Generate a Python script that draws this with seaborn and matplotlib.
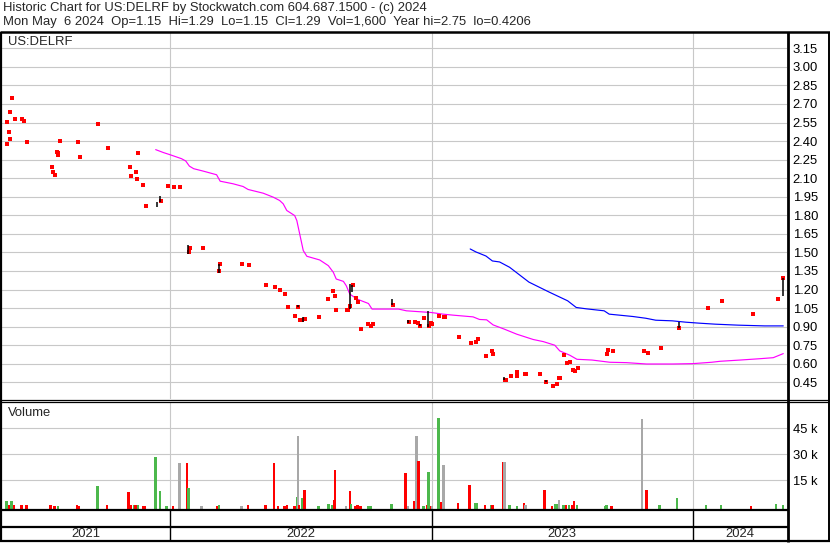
import numpy as np
import pandas as pd
import seaborn as sns
import matplotlib.pyplot as plt
from matplotlib.lines import Line2D

# ---- data ----
# daily closes (red dots)
close_dates = [
    "2021-05-18", "2021-05-19", "2021-05-21", "2021-05-22", "2021-05-23", "2021-05-26",
    "2021-05-29", "2021-06-08", "2021-06-11", "2021-06-16", "2021-07-20", "2021-07-21",
    "2021-07-25", "2021-07-27", "2021-07-28", "2021-07-29", "2021-07-31", "2021-08-25",
    "2021-08-28", "2021-09-23", "2021-10-06", "2021-11-06", "2021-11-08", "2021-11-14",
    "2021-11-16", "2021-11-18", "2021-11-25", "2021-11-28", "2021-12-19", "2021-12-29",
    "2022-01-06", "2022-01-15", "2022-01-27", "2022-01-29", "2022-02-16", "2022-03-10",
    "2022-03-12", "2022-04-12", "2022-04-21", "2022-05-15", "2022-05-27", "2022-06-03",
    "2022-06-11", "2022-06-14", "2022-06-25", "2022-06-29", "2022-07-01", "2022-07-04",
    "2022-07-09", "2022-07-28", "2022-08-10", "2022-08-16", "2022-08-19", "2022-08-21",
    "2022-09-05", "2022-09-07", "2022-09-09", "2022-09-13", "2022-09-17", "2022-09-21",
    "2022-09-25", "2022-10-05", "2022-10-09", "2022-10-11", "2022-11-08", "2022-11-30",
    "2022-12-09", "2022-12-13", "2022-12-16", "2022-12-22", "2022-12-29", "2022-12-31",
    "2023-01-02", "2023-01-12", "2023-01-18", "2023-01-20", "2023-02-08", "2023-02-25",
    "2023-03-04", "2023-03-07", "2023-03-18", "2023-03-26", "2023-03-28", "2023-04-13",
    "2023-04-15", "2023-04-22", "2023-04-30", "2023-05-01", "2023-05-11", "2023-05-13",
    "2023-06-02", "2023-06-10", "2023-06-19", "2023-06-25", "2023-06-28", "2023-06-29",
    "2023-07-05", "2023-07-09", "2023-07-13", "2023-07-17", "2023-07-20", "2023-07-24",
    "2023-09-03", "2023-09-04", "2023-09-11", "2023-10-24", "2023-10-30", "2023-11-17",
    "2023-12-12", "2024-01-22", "2024-02-11", "2024-03-25", "2024-04-28", "2024-05-06",
]
close_prices = [
    2.38, 2.555, 2.47, 2.635, 2.42, 2.75,
    2.58, 2.58, 2.565, 2.39, 2.19, 2.15,
    2.125, 2.31, 2.285, 2.30, 2.40, 2.39,
    2.27, 2.54, 2.345, 2.19, 2.115, 2.15,
    2.095, 2.30, 2.045, 1.875, 1.915, 2.035,
    2.03, 2.03, 1.50, 1.533, 1.533, 1.347,
    1.403, 1.403, 1.395, 1.24, 1.217, 1.198,
    1.16, 1.055, 0.99, 1.055, 0.955, 0.95,
    0.963, 0.974, 1.12, 1.185, 1.144, 1.031,
    1.031, 1.031, 1.063, 1.233, 1.128, 1.103,
    0.877, 0.925, 0.909, 0.925, 1.079, 0.941,
    0.936, 0.933, 0.909, 0.966, 0.906, 0.928,
    0.925, 0.99, 0.974, 0.974, 0.819, 0.771,
    0.779, 0.803, 0.666, 0.706, 0.682, 0.469,
    0.469, 0.503, 0.503, 0.536, 0.52, 0.52,
    0.52, 0.455, 0.42, 0.439, 0.488, 0.488,
    0.674, 0.609, 0.617, 0.552, 0.544, 0.568,
    0.682, 0.714, 0.706, 0.706, 0.69, 0.731,
    0.89, 1.047, 1.111, 1.006, 1.12, 1.29,
]

# days with a visible high-low range (black bars)
range_dates = ["2021-12-14", "2021-12-18", "2022-01-26", "2022-03-11", "2022-06-28",
               "2022-07-06", "2022-09-09", "2022-09-12", "2022-11-07", "2022-11-29",
               "2022-12-16", "2022-12-27", "2023-04-12", "2023-06-10", "2023-12-12",
               "2024-05-06"]
range_lows = [1.866, 1.906, 1.49, 1.33, 1.055, 0.934, 1.04, 1.18, 1.075, 0.93,
              0.905, 0.90, 0.469, 0.45, 0.89, 1.15]
range_highs = [1.906, 1.96, 1.56, 1.407, 1.075, 0.974, 1.245, 1.235, 1.12, 0.955,
               0.925, 1.03, 0.49, 0.465, 0.94, 1.29]

# moving averages
ma_pink_dates = [
    "2021-12-12", "2021-12-23", "2022-01-01", "2022-01-17", "2022-01-23", "2022-01-28",
    "2022-02-03", "2022-02-16", "2022-03-07", "2022-03-12", "2022-03-30", "2022-04-13",
    "2022-04-20", "2022-05-11", "2022-05-25", "2022-06-03", "2022-06-08", "2022-06-13",
    "2022-06-24", "2022-06-27", "2022-06-30", "2022-07-03", "2022-07-06", "2022-07-11",
    "2022-07-29", "2022-08-10", "2022-08-17", "2022-08-21", "2022-08-31", "2022-09-04",
    "2022-09-09", "2022-09-19", "2022-10-05", "2022-10-10", "2022-11-16", "2022-11-27",
    "2023-01-01", "2023-01-17", "2023-01-31", "2023-02-28", "2023-03-09", "2023-03-19",
    "2023-03-28", "2023-04-13", "2023-04-30", "2023-05-23", "2023-06-06", "2023-06-22",
    "2023-06-29", "2023-07-13", "2023-07-23", "2023-08-13", "2023-09-07", "2023-09-30",
    "2023-10-28", "2023-12-04", "2024-01-01", "2024-01-27", "2024-02-08", "2024-03-07",
    "2024-04-04", "2024-04-22", "2024-05-06",
]
ma_pink_values = [
    2.331, 2.307, 2.29, 2.258, 2.239, 2.198,
    2.177, 2.158, 2.128, 2.076, 2.055, 2.033,
    2.009, 1.979, 1.947, 1.92, 1.893, 1.839,
    1.798, 1.758, 1.677, 1.596, 1.515, 1.469,
    1.439, 1.393, 1.339, 1.285, 1.266, 1.231,
    1.163, 1.123, 1.087, 1.042, 1.042, 1.028,
    1.014, 1.001, 0.993, 0.979, 0.958, 0.955,
    0.914, 0.879, 0.839, 0.796, 0.779, 0.75,
    0.704, 0.669, 0.636, 0.63, 0.612, 0.609,
    0.598, 0.598, 0.601, 0.612, 0.62, 0.63,
    0.641, 0.649, 0.682,
]
ma_blue_dates = [
    "2023-02-24", "2023-03-04", "2023-03-18", "2023-03-27", "2023-04-06", "2023-04-20",
    "2023-05-17", "2023-06-14", "2023-07-10", "2023-07-22", "2023-08-05", "2023-08-30",
    "2023-09-06", "2023-09-20", "2023-10-09", "2023-10-27", "2023-11-10", "2023-12-03",
    "2023-12-22", "2024-01-10", "2024-02-01", "2024-03-04", "2024-04-10", "2024-05-06",
]
ma_blue_values = [
    1.528, 1.504, 1.471, 1.431, 1.423, 1.38,
    1.26, 1.18, 1.109, 1.055, 1.044, 1.028,
    1.001, 0.993, 0.982, 0.968, 0.952, 0.947,
    0.936, 0.928, 0.92, 0.912, 0.906, 0.906,
]

# daily volume in thousands, coloured down / up / flat
vol_dates = [
    "2021-05-18", "2021-05-22", "2021-05-25", "2021-05-28", "2021-06-08", "2021-06-15",
    "2021-07-18", "2021-07-19", "2021-07-24", "2021-07-29", "2021-08-24", "2021-08-26",
    "2021-09-22", "2021-10-05", "2021-11-04", "2021-11-07", "2021-11-12", "2021-11-14",
    "2021-11-17", "2021-11-25", "2021-11-27", "2021-12-12", "2021-12-18", "2021-12-27",
    "2022-01-05", "2022-01-14", "2022-01-25", "2022-01-27", "2022-02-14", "2022-03-08",
    "2022-03-10", "2022-04-11", "2022-04-20", "2022-05-14", "2022-05-26", "2022-06-01",
    "2022-06-10", "2022-06-13", "2022-06-24", "2022-06-27", "2022-06-29", "2022-06-30",
    "2022-07-05", "2022-07-08", "2022-07-27", "2022-08-10", "2022-08-15", "2022-08-18",
    "2022-08-19", "2022-09-04", "2022-09-09", "2022-09-11", "2022-09-16", "2022-09-20",
    "2022-09-24", "2022-10-05", "2022-10-08", "2022-11-06", "2022-11-26", "2022-11-29",
    "2022-12-08", "2022-12-11", "2022-12-14", "2022-12-21", "2022-12-26", "2022-12-28",
    "2022-12-31", "2023-01-02", "2023-01-11", "2023-01-15", "2023-01-18", "2023-02-07",
    "2023-02-23", "2023-03-03", "2023-03-05", "2023-03-17", "2023-03-25", "2023-03-27",
    "2023-04-11", "2023-04-13", "2023-04-20", "2023-04-30", "2023-05-10", "2023-05-12",
    "2023-06-08", "2023-06-18", "2023-06-23", "2023-06-26", "2023-06-28", "2023-07-04",
    "2023-07-08", "2023-07-12", "2023-07-16", "2023-07-19", "2023-07-23", "2023-08-31",
    "2023-09-02", "2023-09-09", "2023-10-22", "2023-10-28", "2023-11-15", "2023-12-10",
    "2024-01-19", "2024-02-09", "2024-03-22", "2024-04-26", "2024-05-06",
]
vol_values = [
    3.1, 0.5, 3.1, 0.5, 0.6, 0.8,
    0.6, 0.9, 0.4, 0.4, 0.7, 0.4,
    11.7, 0.9, 8.3, 1.0, 0.8, 1.0,
    0.5, 0.4, 0.4, 28.4, 8.8, 0.4,
    0.4, 25.0, 25.0, 10.6, 0.4, 0.4,
    1.0, 0.4, 0.6, 0.6, 25.2, 0.3,
    0.3, 0.75, 0.3, 5.4, 40.6, 0.6,
    4.8, 9.4, 0.3, 1.3, 0.8, 3.6,
    20.9, 0.3, 8.8, 1.3, 0.3, 0.5,
    0.3, 0.3, 0.3, 1.3, 19.2, 0.3,
    3.1, 40.6, 26.1, 0.3, 0.5, 19.8,
    0.3, 0.3, 50.9, 2.5, 23.8, 1.9,
    12.3, 1.9, 1.9, 0.5, 0.8, 0.5,
    25.6, 25.6, 1.0, 0.3, 1.9, 0.5,
    9.4, 0.3, 1.3, 1.3, 3.6, 1.0,
    1.0, 0.5, 0.5, 3.1, 1.0, 0.3,
    0.8, 0.3, 50.4, 9.4, 0.5, 4.8,
    0.5, 0.8, 0.3, 1.3, 0.9,
]
vol_moves = [
    "up", "down", "up", "down", "down", "down",
    "down", "down", "down", "up", "down", "down",
    "up", "down", "down", "down", "up", "down",
    "up", "down", "down", "up", "up", "up",
    "down", "flat", "down", "up", "flat", "down",
    "up", "flat", "down", "down", "down", "down",
    "down", "down", "down", "up", "flat", "down",
    "up", "down", "up", "up", "up", "down",
    "down", "flat", "down", "up", "down", "down",
    "down", "up", "up", "up", "down", "flat",
    "down", "flat", "down", "up", "down", "up",
    "down", "flat", "up", "down", "flat", "down",
    "down", "up", "up", "down", "up", "down",
    "down", "flat", "up", "up", "down", "flat",
    "down", "down", "up", "up", "flat", "up",
    "down", "up", "down", "down", "up", "up",
    "up", "down", "flat", "down", "up", "up",
    "up", "up", "down", "up", "up",
]

price_ticks = [0.45, 0.60, 0.75, 0.90, 1.05, 1.20, 1.35, 1.50, 1.65, 1.80,
               1.95, 2.10, 2.25, 2.40, 2.55, 2.70, 2.85, 3.00, 3.15]
vol_ticks = [15, 30, 45]
vol_tick_labels = ["15 k", "30 k", "45 k"]
year_starts = ["2022-01-01", "2023-01-01", "2024-01-01"]
year_labels = ["2021", "2022", "2023", "2024"]

title_1 = "Historic Chart for US:DELRF by Stockwatch.com 604.687.1500 - (c) 2024"
title_2 = ("Mon May  6 2024  Op=1.15  Hi=1.29  Lo=1.15  Cl=1.29  Vol=1,600  "
           "Year hi=2.75  lo=0.4206")

# ---- styling ----
sns.set_style("white")
plt.rcParams["font.family"] = ["Liberation Sans", "DejaVu Sans"]
FS = 9.4
GRID = "#c8c8c8"
MOVE_COLORS = {"down": "#ff0000", "up": "#4cb84c", "flat": "#a8a8a8"}

W, H = 830, 543
fig = plt.figure(figsize=(W / 100, H / 100), dpi=100, facecolor="white")


def box(x0, y0, x1, y1):
    # pixel box (top-left origin) -> figure fraction rect
    return [x0 / W, 1 - y1 / H, (x1 - x0) / W, (y1 - y0) / H]


def rule(x0, y0, x1, y1, lw):
    fig.add_artist(Line2D([x0 / W, x1 / W], [1 - y0 / H, 1 - y1 / H],
                          color="black", lw=lw, solid_capstyle="butt"))


ax_p = fig.add_axes(box(2, 33, 787, 399))
ax_v = fig.add_axes(box(2, 402, 787, 509))
ax_d = fig.add_axes(box(2, 510, 787, 541))

ref = pd.Timestamp("2022-01-01")
x_left = ref - pd.Timedelta(days=234.5)
x_right = ref + pd.Timedelta(days=861.2)
year_lines = pd.to_datetime(year_starts)

# price panel
closes = pd.DataFrame({"date": pd.to_datetime(close_dates), "price": close_prices})
sns.lineplot(x=pd.to_datetime(ma_pink_dates), y=ma_pink_values, ax=ax_p,
             color="#ff00ff", linewidth=0.85, zorder=3)
sns.lineplot(x=pd.to_datetime(ma_blue_dates), y=ma_blue_values, ax=ax_p,
             color="#0000ff", linewidth=0.85, zorder=3)
sns.scatterplot(data=closes, x="date", y="price", ax=ax_p, marker="s", s=5,
                color="#ff0000", linewidth=0, zorder=4)
ax_p.vlines(pd.to_datetime(range_dates), range_lows, range_highs,
            color="black", lw=1.1, zorder=5)
ax_p.set_ylim(0.315, 3.274)
ax_p.set_yticks(price_ticks)
ax_p.set_yticklabels([f"{t:.2f}" for t in price_ticks])

# volume panel
vol_floor = -1.56
ax_v.bar(pd.to_datetime(vol_dates), np.array(vol_values) - vol_floor, bottom=vol_floor,
         width=3.4, color=[MOVE_COLORS[m] for m in vol_moves], linewidth=0, zorder=3)
ax_v.set_ylim(vol_floor, 60.2)
ax_v.set_yticks(vol_ticks)
ax_v.set_yticklabels(vol_tick_labels)

for ax in (ax_p, ax_v):
    ax.set_xlim(x_left, x_right)
    ax.set_xticks(year_lines)
    ax.set_xlabel("")
    ax.set_ylabel("")
    ax.yaxis.tick_right()
    ax.tick_params(axis="x", length=0, labelbottom=False)
    ax.tick_params(axis="y", length=0, pad=4, labelsize=FS, colors="black")
    ax.grid(True, color=GRID, lw=0.8)
    ax.set_axisbelow(True)
    for s in ax.spines.values():
        s.set_visible(False)

# date strip
ax_d.set_xlim(x_left, x_right)
ax_d.set_ylim(0, 1)
ax_d.set_axis_off()
ax_d.vlines(year_lines, 0, 1, color="black", lw=1.0)
bounds = [x_left] + list(year_lines) + [x_right]
for i, lab in enumerate(year_labels):
    mid = bounds[i] + (bounds[i + 1] - bounds[i]) / 2
    ax_d.text(mid, 0.22, lab, ha="center", va="center", fontsize=FS)

# frame
rule(0, 32, 830, 32, 1.8)
rule(1, 32, 1, 542, 1.6)
rule(828.5, 32, 828.5, 542, 1.4)
rule(788, 32, 788, 542, 2.0)
rule(0, 400.3, 830, 400.3, 0.9)
rule(0, 402.2, 830, 402.2, 0.9)
rule(0, 509.9, 788, 509.9, 1.6)
rule(0, 527.3, 788, 527.3, 1.6)
rule(0, 541.4, 830, 541.4, 1.6)

# texts
fig.text(3 / W, 1 - 8 / H, title_1, fontsize=FS, ha="left", va="center")
fig.text(3 / W, 1 - 22 / H, title_2, fontsize=FS, ha="left", va="center")
fig.text(8 / W, 1 - 42 / H, "US:DELRF", fontsize=FS, ha="left", va="center")
fig.text(8 / W, 1 - 413 / H, "Volume", fontsize=FS, ha="left", va="center")

fig.savefig("out.png", dpi=100, facecolor="white")
